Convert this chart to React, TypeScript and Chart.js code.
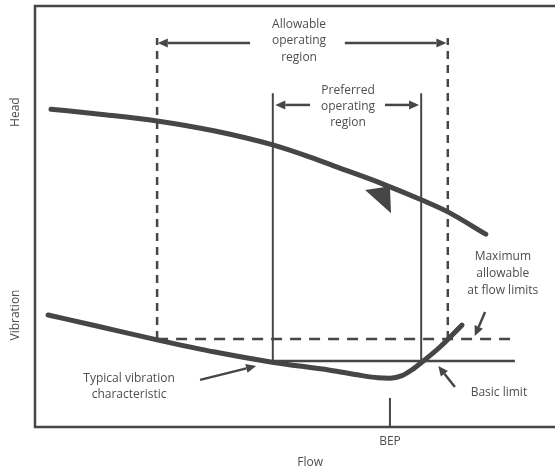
import React, { useEffect, useRef } from "react";
import { Chart, registerables } from "chart.js";
Chart.register(...registerables);

// Flow in % of BEP flow, head / vibration in arbitrary relative units
const flowMin = 0;
const flowMax = 146.5;
const levelMin = 0;
const levelMax = 100;

const headFlow = [4.5, 18.3, 34.4, 50.7, 67.0, 77.5, 85.9, 97.2, 109.0, 116.3, 127.0];
const headValues = [75.5, 74.3, 72.7, 70.3, 67.0, 64.1, 61.5, 58.0, 53.9, 51.1, 45.8];

const vibrationFlow = [3.7, 18.3, 34.4, 50.7, 66.8, 83.1, 92.1, 96.6, 100.0, 103.4, 106.2, 109.0, 114.1, 120.3];
const vibrationValues = [26.6, 23.8, 20.7, 17.8, 15.4, 13.5, 12.2, 11.7, 11.6, 12.2, 13.6, 15.4, 19.0, 24.2];

const allowableFlowLimits = [34.4, 116.3];
const allowableTop = 92.4;
const preferredFlowLimits = [67.0, 108.8];
const preferredTop = 79.3;
const maxAllowableVibration = 20.9;
const basicVibrationLimit = 15.7;
const limitLineEnd = 135.2;
const bepFlow = 100;
const bepTickTop = 6.9;

// Direction triangle on the head curve [flow, level]
const headMarker = [
  [93.0, 56.3],
  [100.0, 57.2],
  [100.3, 50.8],
];

// Annotation arrows: [fromFlow, fromLevel, toFlow, toLevel]
const arrows = [
  [60.6, 91.2, 34.6, 91.2],
  [87.3, 91.2, 115.9, 91.2],
  [77.5, 76.5, 67.7, 76.5],
  [98.6, 76.5, 108.2, 76.5],
  [46.5, 11.2, 62.3, 14.5],
  [126.8, 27.3, 123.9, 21.6],
  [118.3, 9.5, 113.6, 14.5],
];

// Text blocks: [lines, centerFlow, firstLineLevel, lineStepLevel]
const labels: [string[], number, number, number][] = [
  [["Allowable", "operating", "region"], 74.4, 95.6, 3.9],
  [["Preferred", "operating", "region"], 88.2, 80.0, 3.85],
  [["Typical vibration", "characteristic"], 26.5, 11.6, 4.0],
  [["Maximum", "allowable", "at flow limits"], 131.8, 40.4, 3.95],
  [["Basic limit"], 130.7, 8.1, 4.0],
];

const headTitle = "Head";
const headTitleLevel = 74.8;
const vibrationTitle = "Vibration";
const vibrationTitleLevel = 26.6;
const xTitle = "Flow";
const xTitleFlow = 77.5;
const bepLabel = "BEP";

const INK = "#464646";
const TEXT = "#4e4e4e";
const FONT = "12px 'Open Sans', 'DejaVu Sans', sans-serif";

function pts(xs: number[], ys: number[]) {
  return xs.map((x, i) => ({ x, y: ys[i] }));
}

const overlay = {
  id: "overlay",
  afterDatasetsDraw(chart: any) {
    const { ctx, chartArea } = chart;
    const xs = chart.scales.x;
    const ys = chart.scales.y;
    const px = (v: number) => xs.getPixelForValue(v);
    const py = (v: number) => ys.getPixelForValue(v);
    ctx.save();
    // frame (left, top, bottom)
    ctx.strokeStyle = INK;
    ctx.lineWidth = 2.5;
    ctx.beginPath();
    ctx.moveTo(chartArea.right + 5, chartArea.top);
    ctx.lineTo(chartArea.left, chartArea.top);
    ctx.lineTo(chartArea.left, chartArea.bottom);
    ctx.lineTo(chartArea.right + 5, chartArea.bottom);
    ctx.stroke();

    // BEP tick
    ctx.lineWidth = 2;
    ctx.beginPath();
    ctx.moveTo(px(bepFlow), py(levelMin));
    ctx.lineTo(px(bepFlow), py(bepTickTop));
    ctx.stroke();

    // head direction marker
    ctx.fillStyle = INK;
    ctx.beginPath();
    headMarker.forEach(([fx, fy], i) => {
      if (i === 0) ctx.moveTo(px(fx), py(fy));
      else ctx.lineTo(px(fx), py(fy));
    });
    ctx.closePath();
    ctx.fill();

    // arrows
    arrows.forEach(([x1, y1, x2, y2]) => {
      const ax = px(x1), ay = py(y1), bx = px(x2), by = py(y2);
      const ang = Math.atan2(by - ay, bx - ax);
      const L = 10, W = 4.5;
      const baseX = bx - L * Math.cos(ang);
      const baseY = by - L * Math.sin(ang);
      ctx.lineWidth = 2.5;
      ctx.beginPath();
      ctx.moveTo(ax, ay);
      ctx.lineTo(baseX, baseY);
      ctx.stroke();
      ctx.beginPath();
      ctx.moveTo(bx, by);
      ctx.lineTo(baseX + W * Math.sin(ang), baseY - W * Math.cos(ang));
      ctx.lineTo(baseX - W * Math.sin(ang), baseY + W * Math.cos(ang));
      ctx.closePath();
      ctx.fill();
    });

    // text blocks
    ctx.fillStyle = TEXT;
    ctx.font = FONT;
    ctx.textAlign = "center";
    ctx.textBaseline = "middle";
    labels.forEach(([lines, cx, y0, step]) => {
      lines.forEach((t, i) => ctx.fillText(t, px(cx), py(y0 - i * step)));
    });

    // BEP and Flow labels under the axis
    ctx.fillText(bepLabel, px(bepFlow), chartArea.bottom + 15);
    ctx.fillText(xTitle, px(xTitleFlow), chartArea.bottom + 36);

    // rotated axis titles
    [[headTitle, headTitleLevel], [vibrationTitle, vibrationTitleLevel]].forEach(([t, lv]) => {
      ctx.save();
      ctx.translate(chartArea.left - 19, py(lv as number));
      ctx.rotate(-Math.PI / 2);
      ctx.fillText(t as string, 0, 0);
      ctx.restore();
    });
    ctx.restore();
  },
};

export default function App() {
  const ref = useRef<HTMLCanvasElement | null>(null);
  useEffect(() => {
    if (!ref.current) return;
    const chart = new Chart(ref.current, {
      type: "scatter",
      data: {
        datasets: [
          {
            label: "Allowable low",
            data: [
              { x: allowableFlowLimits[0], y: maxAllowableVibration },
              { x: allowableFlowLimits[0], y: allowableTop },
            ],
            showLine: true, borderColor: INK, borderWidth: 2.5, borderDash: [8, 6], pointRadius: 0,
          },
          {
            label: "Allowable high",
            data: [
              { x: allowableFlowLimits[1], y: maxAllowableVibration },
              { x: allowableFlowLimits[1], y: allowableTop },
            ],
            showLine: true, borderColor: INK, borderWidth: 2.5, borderDash: [8, 6], pointRadius: 0,
          },
          {
            label: "Max allowable",
            data: [
              { x: allowableFlowLimits[0], y: maxAllowableVibration },
              { x: limitLineEnd, y: maxAllowableVibration },
            ],
            showLine: true, borderColor: INK, borderWidth: 2.5, borderDash: [11, 8], pointRadius: 0,
          },
          {
            label: "Preferred low",
            data: [
              { x: preferredFlowLimits[0], y: basicVibrationLimit },
              { x: preferredFlowLimits[0], y: preferredTop },
            ],
            showLine: true, borderColor: INK, borderWidth: 2, pointRadius: 0,
          },
          {
            label: "Preferred high",
            data: [
              { x: preferredFlowLimits[1], y: basicVibrationLimit },
              { x: preferredFlowLimits[1], y: preferredTop },
            ],
            showLine: true, borderColor: INK, borderWidth: 2, pointRadius: 0,
          },
          {
            label: "Basic limit",
            data: [
              { x: preferredFlowLimits[0], y: basicVibrationLimit },
              { x: limitLineEnd, y: basicVibrationLimit },
            ],
            showLine: true, borderColor: INK, borderWidth: 2.5, pointRadius: 0,
          },
          {
            label: "Head",
            data: pts(headFlow, headValues),
            showLine: true, borderColor: INK, borderWidth: 5, pointRadius: 0,
            cubicInterpolationMode: "monotone", borderCapStyle: "round",
          },
          {
            label: "Vibration",
            data: pts(vibrationFlow, vibrationValues),
            showLine: true, borderColor: INK, borderWidth: 5, pointRadius: 0,
            cubicInterpolationMode: "monotone", borderCapStyle: "round",
          },
        ],
      },
      options: {
        responsive: false,
        animation: false,
        layout: { padding: { left: 35, top: 6, right: 0, bottom: 46 } },
        plugins: { legend: { display: false }, tooltip: { enabled: false } },
        scales: {
          x: { type: "linear", min: flowMin, max: flowMax, display: false },
          y: { type: "linear", min: levelMin, max: levelMax, display: false },
        },
      },
      plugins: [overlay],
    } as any);
    return () => chart.destroy();
  }, []);
  return (
    <div style={{ position: "absolute", left: 0, top: 0, width: 555, height: 473, background: "#fff" }}>
      <canvas ref={ref} width={555} height={473} style={{ display: "block" }} />
    </div>
  );
}
